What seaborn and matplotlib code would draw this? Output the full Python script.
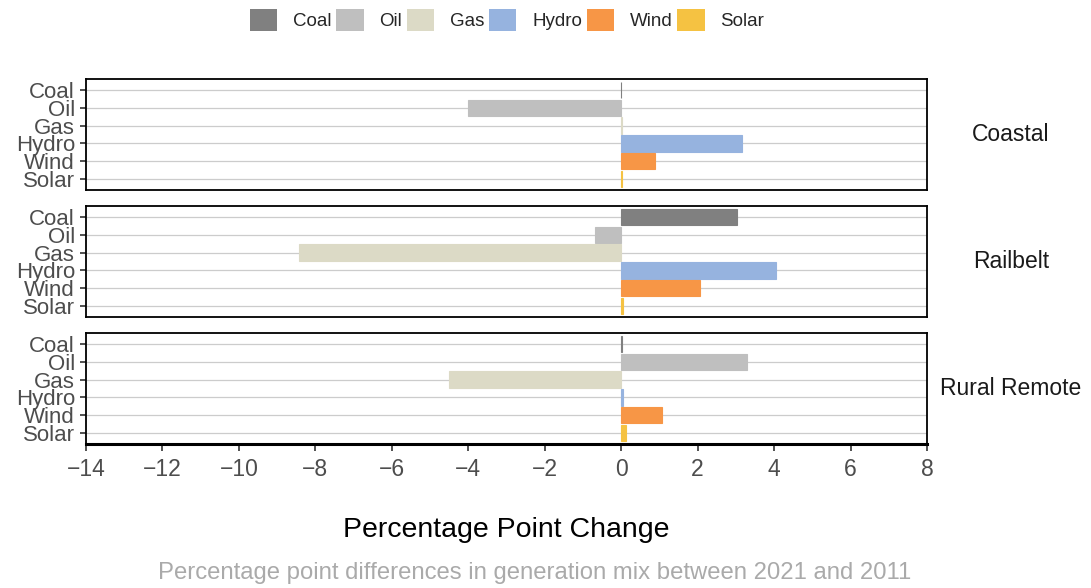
import pandas as pd
import matplotlib.pyplot as plt
import seaborn as sns
from matplotlib.patches import Patch

sns.set_style("white")
plt.rcParams['font.family'] = ['Liberation Sans', 'DejaVu Sans']

# data
sources = ["Coal", "Oil", "Gas", "Hydro", "Wind", "Solar"]
regions = ["Coastal", "Railbelt", "Rural Remote"]
coastal = [-0.01, -4.0, 0.01, 3.17, 0.88, 0.01]
railbelt = [3.02, -0.68, -8.43, 4.06, 2.05, 0.05]
rural = [0.01, 3.28, -4.5, 0.04, 1.07, 0.13]
colors = ["#808080", "#bfbfbf", "#dcdac6", "#96b3df", "#f79646", "#f5c242"]

df = pd.DataFrame({
    "region": [r for r in regions for _ in sources],
    "source": sources * 3,
    "change": coastal + railbelt + rural,
})
pal = dict(zip(sources, colors))

fig = plt.figure(figsize=(10.91, 5.88), dpi=100)
W, H = 1091, 588
left, right = 86 / W, 927 / W
tops = [79, 206, 333]
ph = 111

for i, reg in enumerate(regions):
    ax = fig.add_axes([left, 1 - (tops[i] + ph) / H, right - left, ph / H])
    sub = df[df.region == reg]
    sns.barplot(data=sub, y="source", x="change", hue="source", palette=pal,
                order=sources, hue_order=sources, orient="h", width=0.9,
                legend=False, ax=ax, saturation=1, linewidth=0.8)
    for p, c in zip(ax.patches, colors):
        p.set_edgecolor(c)
    ax.set_xlim(-14, 8)
    ax.set_ylim(5.6, -0.6)
    ax.grid(axis="y", color="#cccccc", linewidth=0.9)
    ax.set_axisbelow(True)
    ax.set_ylabel("")
    ax.set_xlabel("")
    ax.tick_params(axis="y", labelsize=16, labelcolor="#4d4d4d", length=4,
                   width=1.2, color="#333333", left=True, pad=4)
    for s in ax.spines.values():
        s.set_color("black")
        s.set_linewidth(1.3)
    ax.text(1.10, 0.5, reg, transform=ax.transAxes, ha="center", va="center",
            fontsize=16.5, color="#1a1a1a")
    if i < 2:
        ax.set_xticks([])
    else:
        ax.set_xticks(range(-14, 9, 2))
        ax.set_xticklabels([str(t).replace("-", "\u2212") for t in range(-14, 9, 2)])
        ax.tick_params(axis="x", labelsize=16.5, labelcolor="#4d4d4d", length=5,
                       width=1.2, color="#333333", bottom=True, pad=5)
        ax.spines["bottom"].set_linewidth(2.2)

fig.text((left + right) / 2, 1 - 530 / H, "Percentage Point Change",
         ha="center", va="center", fontsize=20.5, color="black")
fig.text(535 / W, 1 - 573 / H,
         "Percentage point differences in generation mix between 2021 and 2011",
         ha="center", va="center", fontsize=17.2, color="#aaaaaa")

handles = [Patch(facecolor=c, edgecolor="none") for c in colors]
fig.legend(handles, sources, loc="center", bbox_to_anchor=(0.465, 1 - 20 / H),
           ncol=6, frameon=False, fontsize=13.5, handlelength=1.45,
           handleheight=1.45, handletextpad=0.85, columnspacing=0.25)

fig.savefig("out.png", dpi=100)
